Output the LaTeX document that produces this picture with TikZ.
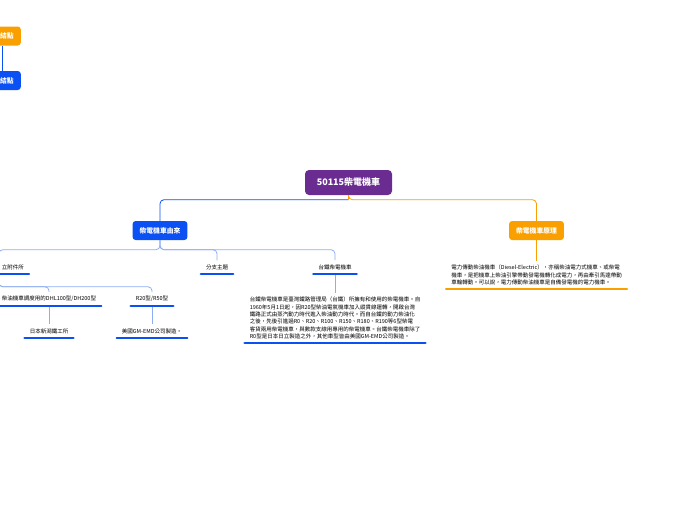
\documentclass[tikz,border=0pt]{standalone}
\usepackage{fontspec}
\setmainfont{Noto Sans CJK TC}
\usetikzlibrary{positioning}
\definecolor{rootpurple}{HTML}{6A2C91}
\definecolor{mapblue}{HTML}{0B50F2}
\definecolor{maporange}{HTML}{F9A000}
\definecolor{linkblue}{HTML}{8DAEF2}
\begin{document}
\begin{tikzpicture}[x=1pt,y=-1pt,
    rootbox/.style={fill=rootpurple,text=white,rounded corners=4pt,minimum width=87pt,minimum height=25pt,font=\bfseries\fontsize{9}{9}\selectfont},
    mainbox/.style={text=white,rounded corners=3pt,minimum height=19pt,inner xsep=7pt,font=\bfseries\fontsize{6.8}{7}\selectfont},
    topic/.style={inner xsep=5pt,inner ysep=4pt,align=left,font=\fontsize{5.5}{7.4}\selectfont},
    uline/.style={line width=2.4pt,line cap=round},
    link/.style={line width=0.8pt,rounded corners=4pt}]
    \useasboundingbox (0,0) rectangle (696,520);
    \node[rootbox] (root) at (348.5,182.5) {50115柴電機車};
    \node[mainbox,fill=mapblue] (orig) at (160,230.5) {柴電機車由來};
    \node[mainbox,fill=maporange] (prin) at (536.5,230.5) {柴電機車原理};
    \node[mainbox,fill=maporange,anchor=east,text width=40pt,align=right] (free1) at (21,36) {結點};
    \node[mainbox,fill=mapblue,anchor=east,text width=40pt,align=right] (free2) at (21,80.5) {結點};
    \node[topic,anchor=east,text width=50pt,align=right] (t1) at (29,267) {立附件所};
    \node[topic] (t2) at (217,267) {分支主題};
    \node[topic] (t3) at (335,267) {台鐵柴電機車};
    \node[topic] (t11) at (49,299) {柴油機車調度用的DHL100型/DH200型};
    \node[topic] (t12) at (152,299) {R20型/R50型};
    \node[topic] (t111) at (49,331) {日本新潟鐵工所};
    \node[topic] (t121) at (152,331) {美國GM-EMD公司製造。};
    \node[topic] (t31) at (335,318) {台鐵柴電機車是臺灣鐵路管理局（台鐵）所擁有和使用的柴電機車。自\\
        1960年5月1日起，因R20型柴油電氣機車加入縱貫線運轉，開啟台灣\\
        鐵路正式由蒸汽動力時代進入柴油動力時代。而自台鐵的動力柴油化\\
        之後，先後引進過R0、R20、R100、R150、R180、R190等6型柴電\\
        客貨兩用柴電機車，與數款支線用專用的柴電機車。台鐵柴電機車除了\\
        R0型是日本日立製造之外，其他車型皆由美國GM-EMD公司製造。};
    \node[topic] (p1) at (536.5,275) {電力傳動柴油機車（Diesel-Electric），亦稱柴油電力式機車、或柴電\\
        機車，是把機車上柴油引擎帶動發電機轉化成電力，再由牽引馬達帶動\\
        車輪轉動。可以說，電力傳動柴油機車是自備發電機的電力機車。};
    \draw[link,maporange] (root.south) -- ++(0,4.5) -| (prin.north);
    \draw[link,mapblue] (root.south) ++(0,4.5) -| (orig.north);
    \draw[link,maporange] (root.south) -- ++(0,4.5);
    \draw[link,mapblue] ([xshift=-19pt]free1.south east) -- ([xshift=-19pt]free2.north east);
    \draw[link,maporange] (prin.south) -- (p1.north);
    \foreach \n in {t1,t2,t3}
        \draw[link,linkblue] (orig.south) -- ++(0,9.5) -| (\n.north);
    \foreach \n in {t11,t12}
        \draw[link,linkblue] (t1.south) -- ++(0,13) -| (\n.north);
    \draw[link,linkblue] (t11.south) -- (t111.north);
    \draw[link,linkblue] (t12.south) -- (t121.north);
    \draw[link,linkblue] (t3.south) -- (t31.north);
    \foreach \n in {t1,t2,t3,t11,t12,t111,t121,t31}
        \draw[uline,mapblue] (\n.south west) -- (\n.south east);
    \draw[uline,maporange] (p1.south west) -- (p1.south east);
\end{tikzpicture}
\end{document}
